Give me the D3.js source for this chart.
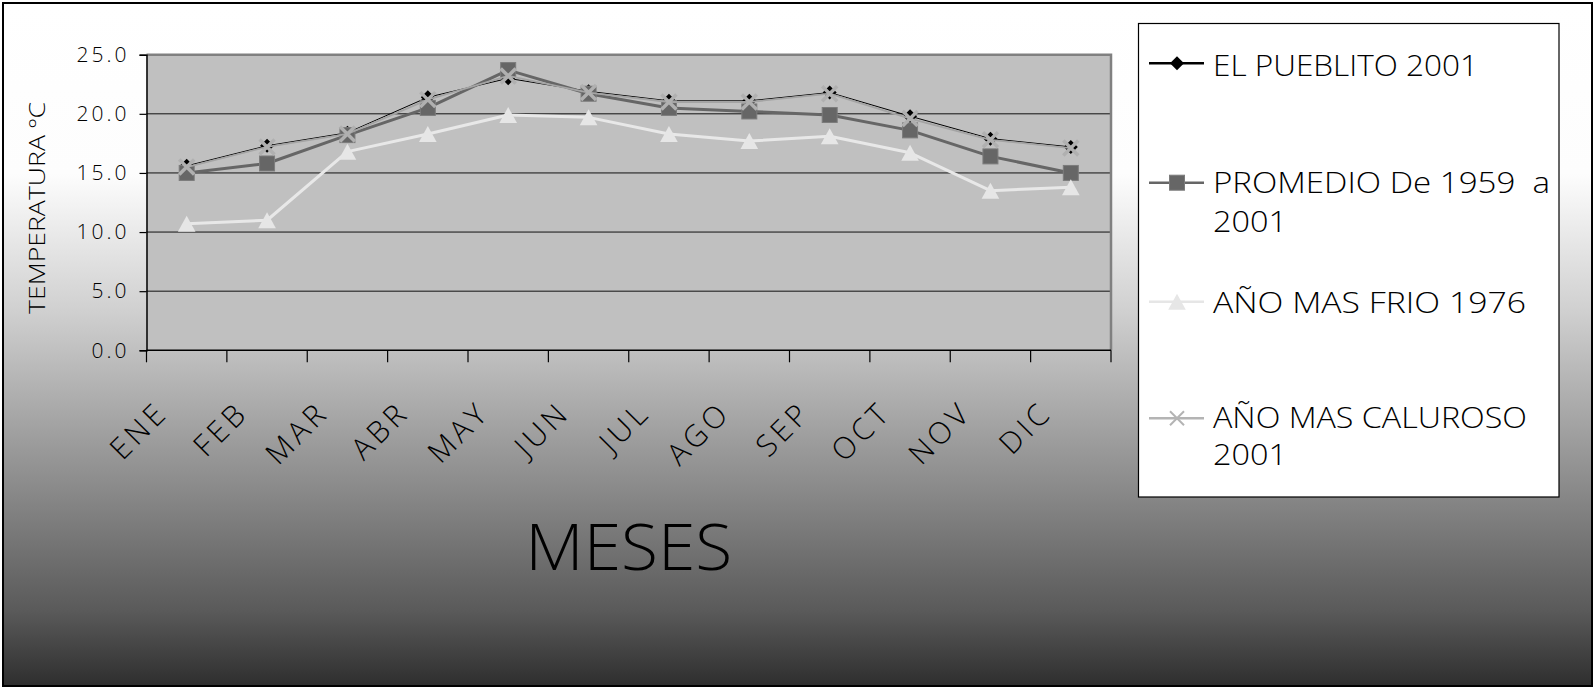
<!DOCTYPE html>
<html>
<head>
<meta charset="utf-8">
<script src="https://cdn.jsdelivr.net/npm/d3@7"></script>
<style>
  html, body { margin: 0; padding: 0; background: #fff; }
  svg { display: block; }
  text { font-family: "Open Sans", "DejaVu Sans", sans-serif; font-weight: 300; fill: #000; }
</style>
</head>
<body>
<svg id="chart" width="1595" height="688"></svg>
<script>
// ---- data ----
const months = ["ENE","FEB","MAR","ABR","MAY","JUN","JUL","AGO","SEP","OCT","NOV","DIC"];
const pueblito2001 = [15.6, 17.3, 18.4, 21.4, 23.0, 21.9, 21.1, 21.1, 21.8, 19.8, 17.9, 17.2];
const promedio1959_2001 = [15.0, 15.8, 18.2, 20.5, 23.7, 21.7, 20.5, 20.2, 19.9, 18.6, 16.4, 15.0];
const frio1976 = [10.7, 11.0, 16.8, 18.3, 19.9, 19.7, 18.3, 17.7, 18.1, 16.7, 13.5, 13.8];
const caluroso2001 = [15.5, 17.2, 18.3, 21.2, 23.2, 21.8, 21.0, 21.0, 21.7, 19.6, 17.8, 17.1];
const yTicks = [0, 5, 10, 15, 20, 25];
const legendLabels = [["EL PUEBLITO 2001"], ["PROMEDIO De 1959  a", "2001"], ["AÑO MAS FRIO 1976"], ["AÑO MAS CALUROSO", "2001"]];
const yTitle = "TEMPERATURA ºC";
const xTitle = "MESES";

// ---- layout ----
const svg = d3.select("#chart");
const W = 1595, H = 688;
const plot = { left: 146.5, right: 1111, top: 54.7, bottom: 350.3 };

const defs = svg.append("defs");
const grad = defs.append("linearGradient").attr("id", "bg").attr("x1", 0).attr("y1", 0).attr("x2", 0).attr("y2", 1);
[[0, "#ffffff"], [0.25, "#fdfdfd"], [0.45, "#d0d0d0"], [0.64, "#9d9d9d"], [0.89, "#5a5a5a"], [1, "#2e2e2e"]]
  .forEach(([o, c]) => grad.append("stop").attr("offset", o).attr("stop-color", c));

svg.append("rect").attr("x", 3).attr("y", 3).attr("width", W - 6).attr("height", H - 5)
  .attr("fill", "url(#bg)").attr("stroke", "#000").attr("stroke-width", 2);

const x = d3.scaleBand().domain(months).range([plot.left, plot.right]).padding(0);
const y = d3.scaleLinear().domain([0, 25]).range([plot.bottom, plot.top]);
const cx = m => x(m) + x.bandwidth() / 2;

// plot background
svg.append("rect").attr("x", plot.left).attr("y", plot.top)
  .attr("width", plot.right - plot.left).attr("height", plot.bottom - plot.top)
  .attr("fill", "#c0c0c0");

// gridlines
svg.append("g").selectAll("line").data(yTicks.filter(t => t > 0 && t < 25)).join("line")
  .attr("x1", plot.left).attr("x2", plot.right)
  .attr("y1", d => y(d)).attr("y2", d => y(d))
  .attr("stroke", "#111").attr("stroke-width", 1);

// top & right border
svg.append("path")
  .attr("d", `M${plot.left},${y(25)}H${plot.right}V${plot.bottom}`)
  .attr("fill", "none").attr("stroke", "#808080").attr("stroke-width", 2.5);

// y axis
const yAxis = svg.append("g").attr("transform", `translate(${plot.left},0)`)
  .call(d3.axisLeft(y).tickValues(yTicks).tickSize(7).tickPadding(10).tickFormat(d3.format(".1f")));
yAxis.select(".domain").attr("stroke", "#000").attr("stroke-width", 1.5);
yAxis.selectAll(".tick line").attr("stroke", "#000").attr("stroke-width", 1.2);
yAxis.selectAll(".tick text").attr("font-size", 21).attr("letter-spacing", "3px")
  .attr("font-family", null).attr("fill", "#000");

// x axis line and boundary ticks
svg.append("line").attr("x1", plot.left).attr("x2", plot.right)
  .attr("y1", plot.bottom).attr("y2", plot.bottom).attr("stroke", "#000").attr("stroke-width", 1.5);
const bounds = months.map(m => x(m)).concat([x.range()[1]]);
svg.append("g").selectAll("line").data(bounds).join("line")
  .attr("x1", d => d).attr("x2", d => d)
  .attr("y1", plot.bottom).attr("y2", plot.bottom + 12)
  .attr("stroke", "#000").attr("stroke-width", 1.2);

// x labels
svg.append("g").selectAll("text").data(months).join("text")
  .attr("transform", d => `translate(${cx(d) - 17},${plot.bottom + 64}) rotate(-45)`)
  .attr("text-anchor", "end")
  .attr("font-size", 30).attr("letter-spacing", "4px")
  .text(d => d);

// axis titles
svg.append("text").attr("transform", `translate(45,208) rotate(-90)`)
  .attr("text-anchor", "middle").attr("font-size", 22)
  .attr("textLength", 212).attr("lengthAdjust", "spacingAndGlyphs")
  .text(yTitle);
svg.append("text").attr("x", (plot.left + plot.right) / 2).attr("y", 570)
  .attr("text-anchor", "middle").attr("font-size", 64)
  .attr("textLength", 207).attr("lengthAdjust", "spacingAndGlyphs")
  .text(xTitle);

// ---- series ----
const line = d3.line().x((d, i) => cx(months[i])).y(d => y(d));
const g = svg.append("g");

// symbols
function drawDiamond(sel, s) {
  sel.append("path").attr("d", `M0,${-s}L${s},0L0,${s}L${-s},0Z`).attr("fill", "#000");
}
function drawSquare(sel, s) {
  sel.append("rect").attr("x", -s).attr("y", -s).attr("width", 2 * s).attr("height", 2 * s)
    .attr("fill", "#666666").attr("stroke", "#7c7c7c").attr("stroke-width", 1);
}
function drawTriangle(sel, s) {
  sel.append("path").attr("d", `M0,${-s}L${s * 1.1},${s}L${-s * 1.1},${s}Z`).attr("fill", "#e6e6e6");
}
function drawX(sel, s, w, c) {
  sel.append("path").attr("d", `M${-s},${-s}L${s},${s}M${-s},${s}L${s},${-s}`)
    .attr("stroke", c).attr("stroke-width", w).attr("fill", "none");
}

const series = [
  { name: "pueblito", data: pueblito2001, color: "#000", width: 1, marker: (s) => drawDiamond(s, 7) },
  { name: "promedio", data: promedio1959_2001, color: "#666666", width: 3, marker: (s) => drawSquare(s, 7.5) },
  { name: "frio", data: frio1976, color: "#e8e8e8", width: 3, marker: (s) => drawTriangle(s, 8) },
  { name: "caluroso", data: caluroso2001, color: "#a4a4a4", width: 1.8, marker: (s) => drawX(s, 7.5, 3.5, "#b0b0b0") }
];

series.forEach(sr => {
  g.append("path").datum(sr.data).attr("d", line)
    .attr("fill", "none").attr("stroke", sr.color).attr("stroke-width", sr.width)
    .attr("stroke-linejoin", "round");
  g.append("g").selectAll("g").data(sr.data).join("g")
    .attr("transform", (d, i) => `translate(${cx(months[i])},${y(d)})`)
    .each(function () { sr.marker(d3.select(this)); });
});

// ---- legend ----
const lg = svg.append("g");
lg.append("rect").attr("x", 1138.5).attr("y", 23.5).attr("width", 420.5).attr("height", 473.5)
  .attr("fill", "#fff").attr("stroke", "#000").attr("stroke-width", 1.2);

const legendItems = [
  { lineY: 63.3, base: [76], lens: [265], color: "#000", w: 2.5, marker: s => drawDiamond(s, 7) },
  { lineY: 182.7, base: [193.3, 231.7], lens: [337, 74], color: "#666666", w: 2.5, marker: s => drawSquare(s, 7.5) },
  { lineY: 301.7, base: [312.7], lens: [313], color: "#e6e6e6", w: 2.5, marker: s => drawTriangle(s, 8) },
  { lineY: 418.3, base: [428.3, 465], lens: [314, 74], color: "#b4b4b4", w: 2.5, marker: s => drawX(s, 7, 2, "#b4b4b4") }
];
legendItems.forEach((it, k) => {
  lg.append("line").attr("x1", 1149).attr("x2", 1204).attr("y1", it.lineY).attr("y2", it.lineY)
    .attr("stroke", it.color).attr("stroke-width", it.w);
  it.marker(lg.append("g").attr("transform", `translate(1177,${it.lineY})`));
  legendLabels[k].forEach((t, j) => {
    lg.append("text").attr("x", 1213).attr("y", it.base[j])
      .attr("font-size", 29).attr("xml:space", "preserve").style("white-space", "pre")
      .attr("textLength", it.lens[j]).attr("lengthAdjust", "spacingAndGlyphs")
      .text(t);
  });
});
</script>
</body>
</html>
